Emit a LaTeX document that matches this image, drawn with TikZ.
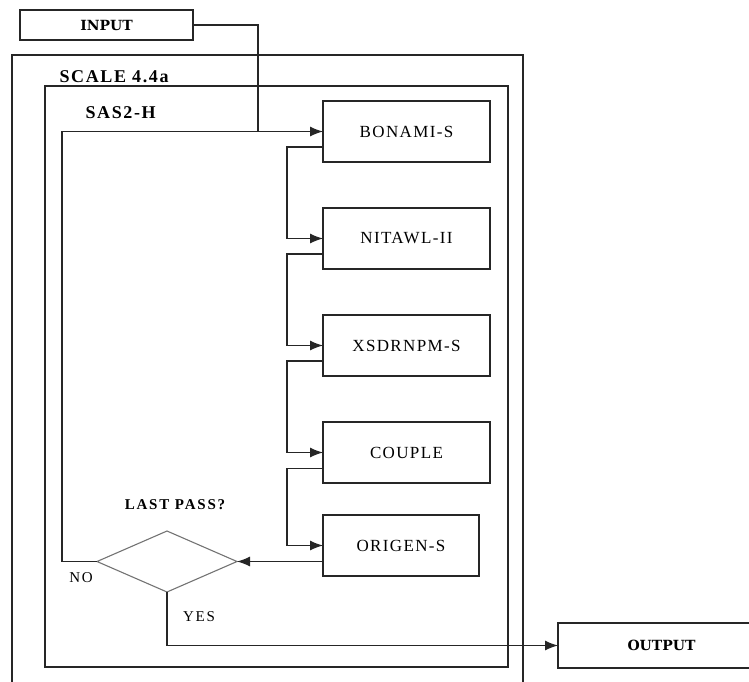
\documentclass[tikz,border=0pt]{standalone}
\usepackage{fontspec}
\setmainfont{Liberation Serif}
\newfontfamily\iofont{DejaVu Serif}
\usetikzlibrary{shapes,arrows,arrows.meta,positioning,fit}

\begin{document}
\begin{tikzpicture}[
    x=1pt, y=-1pt,
    line width=1.1pt, draw=black!85,
    box/.style={rectangle, draw, outer sep=0pt, minimum width=167pt, minimum height=61pt, align=center,
        font=\fontsize{17}{19}\selectfont\addfontfeature{LetterSpace=8}},
    iobox/.style={rectangle, draw, outer sep=0pt, minimum height=30pt, font=\iofont\bfseries\fontsize{14}{16}\selectfont},
    decision/.style={diamond, draw=black!55, outer sep=0pt, minimum width=140pt, minimum height=61pt, inner sep=0pt},
    title/.style={inner sep=0pt, anchor=west, font=\bfseries\fontsize{18}{20}\selectfont\addfontfeature{LetterSpace=9}},
    tag/.style={inner sep=0pt, font=\fontsize{15}{17}\selectfont\addfontfeature{LetterSpace=12}},
    arrow/.style={-{Latex[length=13pt,width=10pt]}}
]
\useasboundingbox (0,0) rectangle (749,681);
\clip (0,0) rectangle (749,681);

% frames
\draw (12,55) rectangle (523,700);
\draw (45,86) rectangle (508,667);
\node[title] (scale) at (59,77) {SCALE 4.4a};
\node[title] (sas) at (85,113) {SAS2-H};

% modules
\node[box] (bonami) at (406.5,131.5) {BONAMI-S};
\node[box, below=46pt of bonami] (nitawl) {NITAWL-II};
\node[box, below=46pt of nitawl] (xsdrnpm) {XSDRNPM-S};
\node[box, below=46pt of xsdrnpm] (couple) {COUPLE};
\node[box, minimum width=156pt, below right=32pt and 0pt of couple.south west] (origen) {ORIGEN-S};

\node[decision] (pass) at (167,561.5) {};
\node[tag, font=\bfseries\fontsize{15}{17}\selectfont\addfontfeature{LetterSpace=12}] (lastpass) at (175,505) {LAST PASS?};
\node[tag] (no) at (81,578) {NO};
\node[tag] (yes) at (199,617) {YES};

\node[iobox, minimum width=173pt] (input) at (106.5,25) {INPUT};
\node[iobox, minimum width=207pt, minimum height=45pt] (output) at (661.5,645.5) {OUTPUT};

% connectors
\coordinate (join) at (258,131.5);
\draw[arrow] (input.east) -| (join) -- (bonami.west);
\draw (pass.west) -- ++(-35,0) |- (join);
\draw[arrow] ([yshift=-15.5pt]bonami.west) -- ++(-36,0) |- (nitawl.west);
\draw[arrow] ([yshift=-15.5pt]nitawl.west) -- ++(-36,0) |- (xsdrnpm.west);
\draw[arrow] ([yshift=-15.5pt]xsdrnpm.west) -- ++(-36,0) |- (couple.west);
\draw[arrow] ([yshift=-16pt]couple.west) -- ++(-36,0) |- (origen.west);
\draw[arrow] ([yshift=-16pt]origen.west) -- (pass.east);
\draw[arrow] (pass.south) |- (output.west);
\end{tikzpicture}
\end{document}
